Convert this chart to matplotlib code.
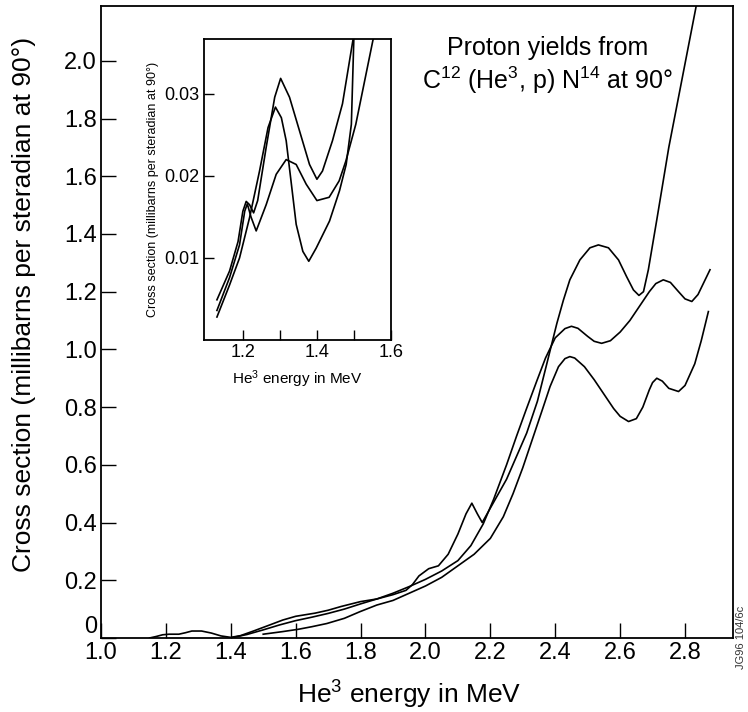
import matplotlib
matplotlib.use("Agg")
import matplotlib.pyplot as plt
from matplotlib.ticker import FixedLocator

plt.rcParams['font.family'] = ['Liberation Sans', 'DejaVu Sans']
plt.rcParams['mathtext.fontset'] = 'custom'
plt.rcParams['mathtext.rm'] = 'Liberation Sans'
plt.rcParams['mathtext.default'] = 'regular'

# main plot curves (He3 energy in MeV, cross section in mb/sr)
a_x = [1.15, 1.17, 1.19, 1.21, 1.24, 1.26, 1.28, 1.31, 1.34, 1.37, 1.40, 1.43, 1.47, 1.52,
       1.56, 1.60, 1.66, 1.70, 1.74, 1.80, 1.85, 1.90, 1.94, 1.96, 1.98, 2.01, 2.04, 2.07,
       2.10, 2.125, 2.143, 2.16, 2.175, 2.20, 2.25, 2.312, 2.345, 2.374, 2.405, 2.425, 2.445,
       2.476, 2.507, 2.533, 2.564, 2.595, 2.62, 2.641, 2.658, 2.672, 2.687, 2.713, 2.75, 2.80, 2.85]
a_y = [0.0, 0.005, 0.011, 0.013, 0.013, 0.018, 0.024, 0.024, 0.017, 0.007, 0.002, 0.008, 0.024, 0.045,
       0.062, 0.075, 0.086, 0.096, 0.109, 0.126, 0.135, 0.15, 0.165, 0.185, 0.215, 0.24, 0.25, 0.29,
       0.36, 0.43, 0.467, 0.43, 0.40, 0.45, 0.55, 0.71, 0.82, 0.95, 1.09, 1.17, 1.241,
       1.31, 1.352, 1.362, 1.352, 1.31, 1.252, 1.206, 1.187, 1.20, 1.276, 1.449, 1.70, 1.99, 2.28]

b_x = [1.40, 1.45, 1.50, 1.55, 1.60, 1.65, 1.70, 1.75, 1.80, 1.85, 1.90, 1.95, 2.0, 2.05,
       2.10, 2.14, 2.178, 2.21, 2.25, 2.281, 2.31, 2.343, 2.37, 2.40, 2.43, 2.45, 2.47, 2.50,
       2.52, 2.543, 2.57, 2.60, 2.63, 2.66, 2.69, 2.71, 2.733, 2.755, 2.78, 2.80, 2.821, 2.84, 2.877]
b_y = [0.0, 0.012, 0.028, 0.045, 0.06, 0.072, 0.085, 0.10, 0.118, 0.135, 0.155, 0.178, 0.203, 0.232,
       0.268, 0.32, 0.395, 0.48, 0.60, 0.70, 0.79, 0.89, 0.97, 1.04, 1.072, 1.08, 1.073, 1.045,
       1.028, 1.021, 1.03, 1.06, 1.10, 1.15, 1.20, 1.228, 1.241, 1.232, 1.20, 1.175, 1.166, 1.19, 1.276]

c_x = [1.50, 1.56, 1.608, 1.65, 1.696, 1.75, 1.798, 1.85, 1.90, 1.95, 2.0, 2.05, 2.10, 2.15,
       2.2, 2.24, 2.27, 2.30, 2.33, 2.36, 2.384, 2.41, 2.43, 2.445, 2.46, 2.49, 2.52, 2.55,
       2.58, 2.60, 2.626, 2.65, 2.67, 2.69, 2.70, 2.713, 2.73, 2.75, 2.78, 2.80, 2.83, 2.85, 2.872]
c_y = [0.013, 0.022, 0.03, 0.039, 0.05, 0.068, 0.091, 0.114, 0.13, 0.155, 0.18, 0.21, 0.25, 0.29,
       0.345, 0.42, 0.50, 0.59, 0.69, 0.79, 0.871, 0.94, 0.968, 0.975, 0.97, 0.94, 0.895, 0.845,
       0.795, 0.768, 0.75, 0.76, 0.80, 0.86, 0.885, 0.90, 0.89, 0.865, 0.854, 0.875, 0.95, 1.03, 1.131]

# inset curves
p_x = [1.13, 1.164, 1.187, 1.20, 1.209, 1.218, 1.229, 1.24, 1.263, 1.286, 1.302, 1.326, 1.353,
       1.38, 1.40, 1.415, 1.442, 1.469, 1.497, 1.50]
p_y = [0.0049, 0.0084, 0.012, 0.0157, 0.0169, 0.0165, 0.0155, 0.017, 0.0235, 0.0296, 0.0319, 0.0296,
       0.0255, 0.0214, 0.0196, 0.0206, 0.0243, 0.0288, 0.0365, 0.0372]
q_x = [1.13, 1.164, 1.191, 1.218, 1.245, 1.268, 1.288, 1.304, 1.317, 1.33, 1.344, 1.362, 1.378,
       1.398, 1.434, 1.461, 1.479, 1.493, 1.50]
q_y = [0.0028, 0.0067, 0.010, 0.0149, 0.0206, 0.0259, 0.0284, 0.0271, 0.0243, 0.0194, 0.0141, 0.0108,
       0.0096, 0.0112, 0.0145, 0.0182, 0.0214, 0.0263, 0.0372]
r_x = [1.13, 1.164, 1.191, 1.205, 1.212, 1.222, 1.236, 1.263, 1.29, 1.317, 1.344, 1.371, 1.40,
       1.433, 1.46, 1.478, 1.505, 1.551, 1.555]
r_y = [0.0036, 0.0076, 0.0116, 0.0157, 0.0166, 0.0150, 0.0133, 0.0165, 0.0202, 0.022, 0.0214, 0.019,
       0.017, 0.0174, 0.0194, 0.0218, 0.0263, 0.0365, 0.0372]

x_ticks = [1.0, 1.2, 1.4, 1.6, 1.8, 2.0, 2.2, 2.4, 2.6, 2.8]
y_ticks = [0, 0.2, 0.4, 0.6, 0.8, 1.0, 1.2, 1.4, 1.6, 1.8, 2.0]
y_ticklabels = ['0', '0.2', '0.4', '0.6', '0.8', '1.0', '1.2', '1.4', '1.6', '1.8', '2.0']

fig = plt.figure(figsize=(7.48, 7.12), dpi=100)
ax = fig.add_axes([0.135, 0.104, 0.845, 0.8876])
for xs, ys in [(a_x, a_y), (b_x, b_y), (c_x, c_y)]:
    ax.plot(xs, ys, color='black', lw=1.2, solid_joinstyle='round')
ax.set_xlim(1.0, 2.948)
ax.set_ylim(0, 2.19)
ax.set_xticks(x_ticks)
ax.set_xticklabels(['%.1f' % v for v in x_ticks])
ax.set_yticks(y_ticks)
ax.set_yticklabels(y_ticklabels)
ax.tick_params(direction='in', length=11, width=1, labelsize=17, pad=3)
ax.get_yticklabels()[0].set_verticalalignment('bottom')
for s in ax.spines.values():
    s.set_linewidth(1.3)
ax.set_xlabel('He$^3$ energy in MeV', fontsize=19)
ax.xaxis.set_label_coords(0.487, -0.064)
ax.set_ylabel('Cross section (millibarns per steradian at 90°)', fontsize=19)
ax.yaxis.set_label_coords(-0.103, 0.527)
ax.text(0.707, 0.934, 'Proton yields from', transform=ax.transAxes, ha='center', va='center', fontsize=18)
ax.text(0.707, 0.883, 'C$^{12}$ (He$^3$, p) N$^{14}$ at 90°', transform=ax.transAxes,
        ha='center', va='center', fontsize=18)
fig.text(0.99, 0.06, 'JG96 104/6c', rotation=90, fontsize=8, color='#333333', ha='center', va='bottom')

ins = fig.add_axes([0.2727, 0.5225, 0.25, 0.4227])
for xs, ys in [(p_x, p_y), (q_x, q_y), (r_x, r_y)]:
    ins.plot(xs, ys, color='black', lw=1.2, solid_joinstyle='round')
ins.set_xlim(1.095, 1.6)
ins.set_ylim(0, 0.0367)
ins.set_xticks([1.2, 1.4, 1.6])
ins.xaxis.set_minor_locator(FixedLocator([1.3, 1.5]))
ins.set_yticks([0.01, 0.02, 0.03])
ins.set_yticklabels(['0.01', '0.02', '0.03'])
ins.tick_params(which='both', direction='in', length=7, width=1, labelsize=13, pad=3)
for s in ins.spines.values():
    s.set_linewidth(1.3)
ins.set_xlabel('He$^3$ energy in MeV', fontsize=11, labelpad=5)
ins.set_ylabel('Cross section (millibarns per steradian at 90°)', fontsize=9, labelpad=4)

fig.savefig('out.png', dpi=100)
